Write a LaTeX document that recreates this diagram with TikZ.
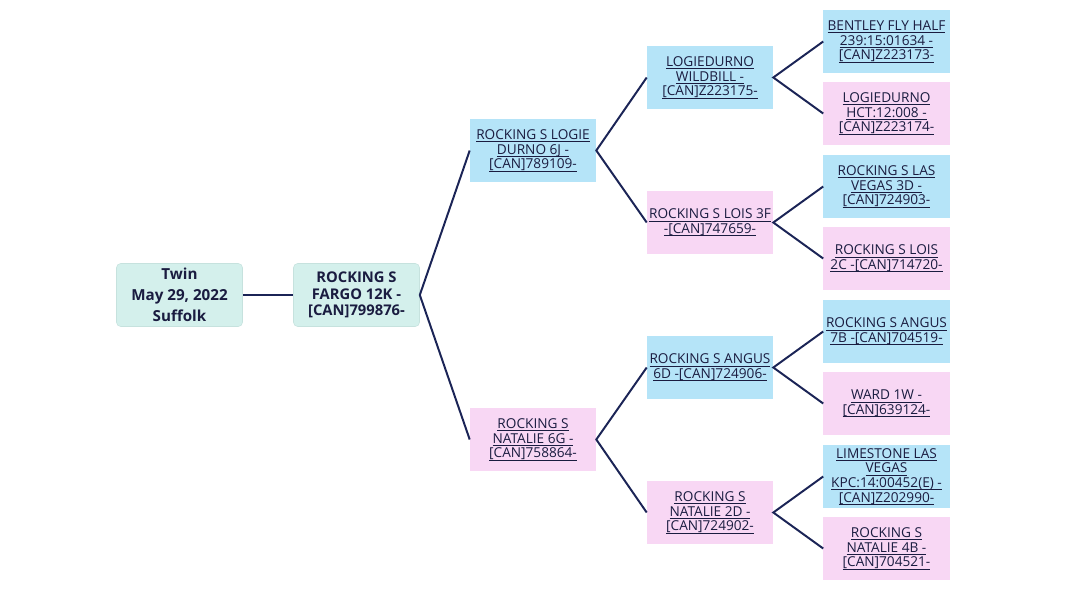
\documentclass[tikz,border=0pt]{standalone}
\usepackage{fontspec}
\setmainfont{Open Sans}
\usepackage{xcolor}
\definecolor{link-navy}{HTML}{1B2456}
\definecolor{text-dark}{HTML}{1A1C40}
\definecolor{root-teal}{HTML}{D4F0EC}
\definecolor{root-edge}{HTML}{C6E2DE}
\definecolor{sire-blue}{HTML}{B5E4F8}
\definecolor{dam-pink}{HTML}{F8D7F4}
\newcommand{\uln}[1]{\setbox0\hbox{#1}\rlap{\rule[-1.8pt]{\wd0}{0.5pt}}\box0}

\begin{document}
\begin{tikzpicture}[x=0.025cm, y=-0.025cm,
      every node/.style={text=text-dark, align=center, inner sep=1pt},
      box/.style={minimum width=3.15cm, minimum height=1.575cm,
                  font=\fontsize{9.7}{10.4}\selectfont},
      rootbox/.style={box, fill=root-teal, draw=root-edge, rounded corners=3pt,
                      font=\bfseries\fontsize{10.8}{14.9}\selectfont},
      sirebox/.style={box, fill=sire-blue},
      dambox/.style={box, fill=dam-pink},
      link/.style={draw=link-navy, line width=1.4pt}]
    \useasboundingbox (0,0) rectangle (1067,600);
    % subject and animal
    \node[rootbox] (twin) at (179.5,295) {Twin\\May 29, 2022\\Suffolk};
    \node[rootbox, font=\bfseries\fontsize{10.5}{11.8}\selectfont] (fargo) at (356.5,295)
         {ROCKING S\\FARGO 12K -\\{[CAN]799876-}};
    % parents
    \node[sirebox] (S) at (533,150.5)
         {\uln{ROCKING S LOGIE}\\\uln{DURNO 6J -}\\\uln{[CAN]789109-}};
    \node[dambox] (D) at (533,439.5)
         {\uln{ROCKING S}\\\uln{NATALIE 6G -}\\\uln{[CAN]758864-}};
    % grandparents
    \node[sirebox] (SS) at (710,77.5)
         {\uln{LOGIEDURNO}\\\uln{WILDBILL -}\\\uln{[CAN]Z223175-}};
    \node[dambox] (SD) at (710,222.5)
         {\uln{ROCKING S LOIS 3F}\\\uln{-[CAN]747659-}};
    \node[sirebox] (DS) at (710,367.5)
         {\uln{ROCKING S ANGUS}\\\uln{6D -[CAN]724906-}};
    \node[dambox] (DD) at (710,512.5)
         {\uln{ROCKING S}\\\uln{NATALIE 2D -}\\\uln{[CAN]724902-}};
    % great grandparents
    \node[sirebox] (SSS) at (886.5,41.5)
         {\uln{BENTLEY FLY HALF}\\\uln{239:15:01634 -}\\\uln{[CAN]Z223173-}};
    \node[dambox] (SSD) at (886.5,113.5)
         {\uln{LOGIEDURNO}\\\uln{HCT:12:008 -}\\\uln{[CAN]Z223174-}};
    \node[sirebox] (SDS) at (886.5,186.5)
         {\uln{ROCKING S LAS}\\\uln{VEGAS 3D -}\\\uln{[CAN]724903-}};
    \node[dambox] (SDD) at (886.5,258.5)
         {\uln{ROCKING S LOIS}\\\uln{2C -[CAN]714720-}};
    \node[sirebox] (DSS) at (886.5,331.5)
         {\uln{ROCKING S ANGUS}\\\uln{7B -[CAN]704519-}};
    \node[dambox] (DSD) at (886.5,403.5)
         {\uln{WARD 1W -}\\\uln{[CAN]639124-}};
    \node[sirebox] (DDS) at (886.5,476.5)
         {\uln{LIMESTONE LAS}\\\uln{VEGAS}\\\uln{KPC:14:00452(E) -}\\\uln{[CAN]Z202990-}};
    \node[dambox] (DDD) at (886.5,548.5)
         {\uln{ROCKING S}\\\uln{NATALIE 4B -}\\\uln{[CAN]704521-}};
    % connectors
    \draw[link] (twin.east) -- (fargo.west);
    \draw[link] (S.west) -- (fargo.east) -- (D.west);
    \draw[link] (SS.west) -- (S.east) -- (SD.west);
    \draw[link] (DS.west) -- (D.east) -- (DD.west);
    \draw[link] (SSS.west) -- (SS.east) -- (SSD.west);
    \draw[link] (SDS.west) -- (SD.east) -- (SDD.west);
    \draw[link] (DSS.west) -- (DS.east) -- (DSD.west);
    \draw[link] (DDS.west) -- (DD.east) -- (DDD.west);
  \end{tikzpicture}
\end{document}
